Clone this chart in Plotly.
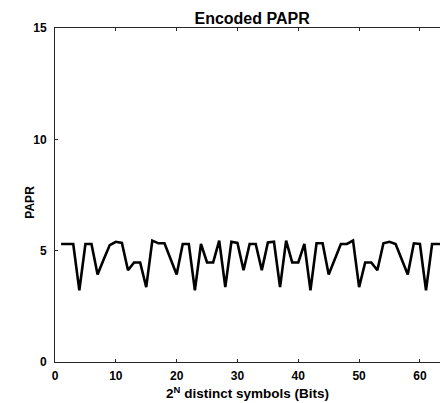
import plotly.graph_objects as go

# symbol index 1..64 and the PAPR
symbols = list(range(1, 65))
papr = [
    5.3, 5.3, 5.3, 3.22, 5.3, 5.3, 3.93, 4.6, 5.25, 5.4,
    5.35, 4.12, 4.47, 4.47, 3.36, 5.45, 5.33, 5.33, 4.6, 3.93,
    5.3, 5.3, 3.22, 5.3, 4.47, 4.47, 5.45, 3.36, 5.4, 5.35,
    4.12, 5.3, 5.3, 4.12, 5.37, 5.4, 3.36, 5.45, 4.47, 4.47,
    5.3, 3.22, 5.33, 5.33, 3.93, 4.6, 5.3, 5.3, 5.45, 3.36,
    4.47, 4.47, 4.12, 5.33, 5.4, 5.3, 4.6, 3.93, 5.33, 5.3,
    3.22, 5.3, 5.3, 5.3,
]
x_ticks = [0, 10, 20, 30, 40, 50, 60]
y_ticks = [0, 5, 10, 15]

font_family = "Liberation Sans, Arial, sans-serif"
axis_color = "#262626"

fig = go.Figure()
fig.add_trace(
    go.Scatter(
        x=symbols,
        y=papr,
        mode="lines",
        line=dict(color="black", width=2.6),
        showlegend=False,
    )
)

fig.update_layout(
    width=440,
    height=403,
    paper_bgcolor="white",
    plot_bgcolor="white",
    margin=dict(l=55, r=0, t=28, b=41),
    font=dict(family=font_family, color=axis_color),
    title=dict(
        text="Encoded PAPR",
        x=0.573,
        xanchor="center",
        y=1 - 18 / 403,
        yanchor="middle",
        font=dict(size=16, weight="bold", color="black"),
    ),
)

# y label sits close to the tick labels, like MATLAB does it
fig.add_annotation(
    text="PAPR",
    xref="paper",
    yref="paper",
    x=-0.065,
    y=0.48,
    xanchor="center",
    yanchor="middle",
    textangle=-90,
    showarrow=False,
    font=dict(size=12, weight="bold", color="black"),
)

fig.update_xaxes(
    range=[0, 63.3],
    tickvals=x_ticks,
    ticks="inside",
    ticklen=3,
    tickcolor=axis_color,
    showline=True,
    linecolor=axis_color,
    linewidth=1,
    mirror="ticks",
    showgrid=False,
    zeroline=False,
    ticklabelstandoff=3,
    tickfont=dict(size=12, weight="bold", color="black"),
    title=dict(
        text="2<sup>N</sup> distinct symbols (Bits)",
        font=dict(size=13.5, weight="bold", color="black"),
        standoff=6,
    ),
)
fig.update_yaxes(
    range=[0, 15],
    tickvals=y_ticks,
    ticks="inside",
    ticklen=3,
    tickcolor=axis_color,
    showline=True,
    linecolor=axis_color,
    linewidth=1,
    mirror=False,
    showgrid=False,
    zeroline=False,
    ticklabelstandoff=5,
    tickfont=dict(size=12, weight="bold", color="black"),
)

# drop the default body margin so the 440x403 figure fills the window
fig.write_html(
    "out.html",
    config={"displayModeBar": False},
    post_script="document.body.style.margin='0';document.body.style.overflow='hidden';",
)
